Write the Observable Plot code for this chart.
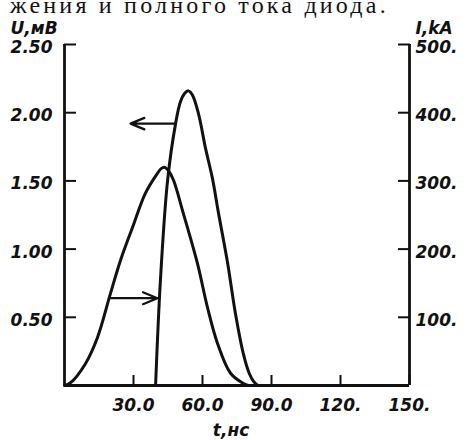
<!DOCTYPE html>
<html><head><meta charset="utf-8">
<script src="https://cdn.jsdelivr.net/npm/d3@7"></script>
<script src="https://cdn.jsdelivr.net/npm/@observablehq/plot@0.6"></script>
<style>
html,body{margin:0;padding:0;background:#fff;overflow:hidden}
#wrap{position:relative;width:467px;height:440px;overflow:hidden}
#chart{position:absolute;left:0;top:0}
#cap{position:absolute;left:10px;top:-5px;font-family:"Liberation Serif",serif;font-size:24px;line-height:20px;letter-spacing:3.2px;white-space:nowrap;color:#111}
</style></head>
<body><div id="wrap"><div id="chart"></div><div id="cap">жения и полного тока диода.</div></div>
<script>
// Voltage curve U (mV, left axis) vs time t (ns)
const uT = [39.6, 41.7, 44.8, 48.3, 50.4, 52.2, 53.9, 55.6, 58.3, 61.3, 64.3, 67.0, 70.9, 74.3, 77.8, 80.3, 82.2, 84.0];
const uV = [0, 0.77, 1.50, 1.92, 2.08, 2.14, 2.16, 2.13, 1.99, 1.74, 1.52, 1.26, 0.90, 0.53, 0.23, 0.09, 0.03, 0];
// Current curve I (kA, right axis) vs time t (ns)
const iT = [0, 2.6, 9.1, 14.3, 20.0, 24.3, 29.6, 35.2, 40.4, 42.0, 43.5, 45.2, 47.4, 51.7, 57.8, 62.2, 66.5, 72.2, 77.8, 80.0];
const iV = [0, 4, 32, 70, 135, 183, 232, 282, 311, 318, 320, 315, 301, 252, 179, 114, 62, 18, 3, 0];

const xTicks = [30, 60, 90, 120, 150];
const xTickLabels = ["30.0", "60.0", "90.0", "120.", "150."];
const uTicks = [0.5, 1.0, 1.5, 2.0, 2.5];
const uTickLabels = ["0.50", "1.00", "1.50", "2.00", "2.50"];
const iTicks = [100, 200, 300, 400, 500];
const iTickLabels = ["100.", "200.", "300.", "400.", "500."];
const xMax = 150, uMax = 2.5, iMax = 500;
const ratio = uMax / iMax;

// arrows: which axis each curve belongs to
const arrowT1 = [48.3, 20.0];
const arrowT2 = [28.7, 40.4];
const arrowU = [1.92, 0.64];

const uData = uT.map((t, k) => ({t, v: uV[k]}));
const iData = iT.map((t, k) => ({t, v: iV[k] * ratio}));
const arrows = arrowT1.map((t1, k) => ({t1, t2: arrowT2[k], u: arrowU[k]}));

const ink = "#111";
const chart = Plot.plot({
  width: 467, height: 440,
  marginLeft: 64, marginRight: 58, marginTop: 44, marginBottom: 55,
  x: {domain: [0, xMax]},
  y: {domain: [0, uMax]},
  style: {fontFamily: "DejaVu Sans", fontSize: "17px", fontStyle: "italic", fontWeight: "bold", color: ink, background: "#fff"},
  marks: [
    // ticks (inward)
    Plot.axisX({ticks: xTicks, tickSize: -10, tickFormat: () => "", label: null, strokeWidth: 2}),
    Plot.axisY({anchor: "left", ticks: uTicks, tickSize: -12, tickFormat: () => "", label: null, strokeWidth: 2}),
    Plot.axisY({anchor: "right", ticks: iTicks.map(v => v * ratio), tickSize: -12, tickFormat: () => "", label: null, strokeWidth: 2}),
    // labels
    Plot.axisX({ticks: xTicks, tickSize: 0, tickPadding: 13, tickFormat: d => xTickLabels[xTicks.indexOf(d)], label: null}),
    Plot.axisY({anchor: "left", ticks: uTicks, tickSize: 0, tickPadding: 12, dy: 3, tickFormat: d => uTickLabels[uTicks.indexOf(d)], label: null}),
    Plot.axisY({anchor: "right", ticks: iTicks.map(v => v * ratio), tickSize: 0, tickPadding: 6, dy: 3, tickFormat: d => iTickLabels[iTicks.indexOf(Math.round(d / ratio))], label: null}),
    // axis lines
    Plot.ruleX([0, xMax], {stroke: ink, strokeWidth: 2.8}),
    Plot.ruleY([0], {stroke: ink, strokeWidth: 2.8}),
    // curves
    Plot.line(iData, {x: "t", y: "v", curve: "catmull-rom", stroke: ink, strokeWidth: 3}),
    Plot.line(uData, {x: "t", y: "v", curve: "catmull-rom", stroke: ink, strokeWidth: 3}),
    Plot.arrow(arrows, {x1: "t1", x2: "t2", y1: "u", y2: "u", stroke: ink, strokeWidth: 2.2, headLength: 13, headAngle: 45}),
    // axis titles
    Plot.text(["U,мВ"], {frameAnchor: "top-left", textAnchor: "start", lineAnchor: "bottom", dx: -54, dy: -11}),
    Plot.text(["I,kA"], {frameAnchor: "top-right", textAnchor: "start", lineAnchor: "bottom", dx: 6, dy: -11}),
    Plot.text(["t,нс"], {frameAnchor: "bottom", textAnchor: "middle", lineAnchor: "bottom", dx: -6, dy: 50})
  ]
});
document.getElementById("chart").appendChild(chart);
</script>
</body></html>
